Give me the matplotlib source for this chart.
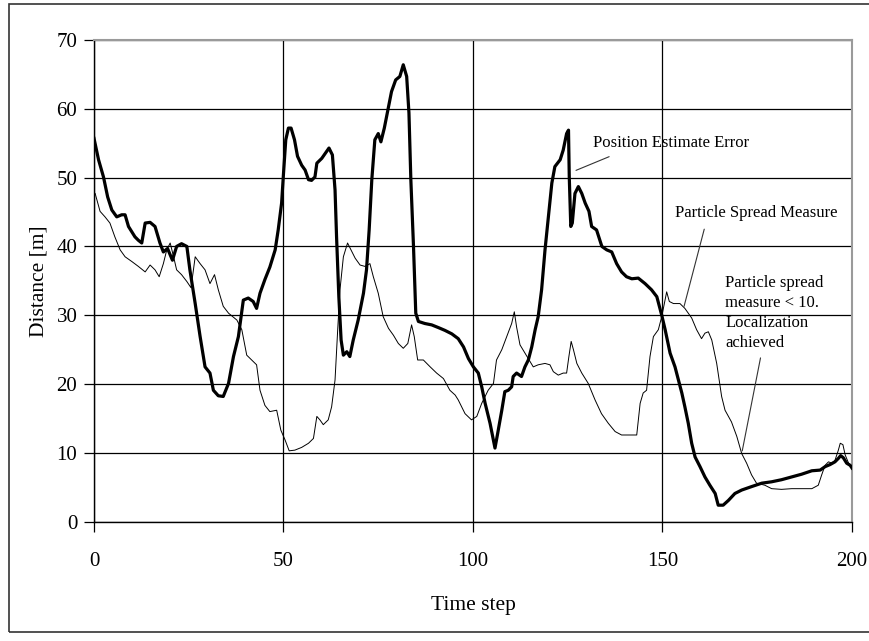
import matplotlib
matplotlib.use("Agg")
import matplotlib.pyplot as plt
from matplotlib.patches import Rectangle

# Position Estimate Error (thick line)
err_t = [0.0, 1.2, 2.5, 3.6, 4.7, 6.0, 7.3, 8.2, 9.1, 10.8, 11.7, 12.6, 13.5, 14.8, 16.1,
         17.4, 18.3, 19.4, 20.7, 21.8, 23.1, 24.5, 25.3, 26.7, 28.0, 29.3, 30.6, 31.5, 32.8,
         34.1, 35.5, 36.8, 38.1, 39.4, 40.7, 42.0, 42.9, 43.8, 45.1, 46.4, 47.8, 48.6, 49.5,
         50.0, 50.6, 51.3, 52.0, 52.9, 53.7, 54.8, 55.7, 56.6, 57.4, 58.3, 58.8, 60.1, 61.0,
         62.0, 62.9, 63.6, 64.0, 64.6, 65.2, 65.8, 66.7, 67.5, 68.4, 69.7, 71.1, 71.9, 72.6,
         73.3, 74.1, 75.0, 75.7, 76.6, 77.7, 78.5, 79.6, 80.7, 81.6, 82.5, 83.1, 83.6, 84.3,
         84.9, 85.6, 87.3, 89.1, 90.9, 92.6, 94.4, 96.1, 97.5, 98.8, 100.1, 101.4, 102.3,
         103.2, 104.5, 105.8, 106.5, 107.6, 108.4, 109.3, 110.2, 110.6, 111.5, 112.8, 113.7,
         114.6, 115.5, 116.4, 117.2, 118.1, 119.0, 119.9, 120.8, 121.6, 123.0, 123.8, 124.7,
         125.2, 125.4, 125.8, 126.2, 126.9, 127.8, 128.7, 129.6, 130.6, 131.3, 132.6, 134.0,
         135.3, 136.6, 137.9, 139.2, 140.5, 141.9, 143.6, 145.4, 147.1, 148.5, 149.8, 150.7,
         152.0, 153.3, 154.2, 155.1, 155.9, 156.8, 157.7, 158.6, 159.9, 161.2, 162.5, 163.9,
         164.7, 166.0, 167.4, 169.1, 170.9, 173.5, 176.2, 178.8, 181.4, 184.1, 186.7, 189.4,
         191.6, 192.9, 194.2, 195.5, 196.4, 197.0, 197.7, 198.6, 199.5, 200.0]
err_v = [55.7, 52.6, 50.1, 47.2, 45.3, 44.3, 44.6, 44.6, 42.9, 41.4, 40.9, 40.5, 43.4, 43.5, 42.9,
         40.5, 39.2, 39.7, 38.0, 40.0, 40.4, 40.0, 36.6, 31.7, 26.9, 22.5, 21.6, 19.1, 18.3,
         18.2, 20.1, 24.0, 26.9, 32.2, 32.5, 32.0, 31.0, 33.2, 35.2, 37.0, 39.5, 42.4, 46.3,
         50.6, 55.5, 57.2, 57.2, 55.5, 53.1, 51.8, 51.1, 49.7, 49.6, 50.1, 52.1, 52.8, 53.5,
         54.3, 53.3, 48.2, 41.4, 32.7, 26.4, 24.2, 24.7, 24.0, 26.4, 29.3, 33.2, 36.6, 42.4,
         49.7, 55.5, 56.4, 55.2, 57.2, 60.3, 62.5, 64.2, 64.7, 66.4, 64.7, 59.4, 49.7, 40.0,
         30.3, 29.1, 28.8, 28.6, 28.2, 27.8, 27.3, 26.6, 25.4, 23.7, 22.5, 21.6, 19.6,
         17.2, 14.3, 10.7, 12.8, 16.2, 18.9, 19.1, 19.6, 21.1, 21.6, 21.1, 22.5,
         23.5, 25.4, 27.9, 29.8, 33.7, 39.5, 44.3, 49.2, 51.6, 52.6, 54.0, 56.4,
         56.9, 50.1, 42.9, 43.4, 47.7, 48.7, 47.7, 46.3, 45.1, 42.9, 42.4, 40.0,
         39.5, 39.2, 37.5, 36.3, 35.6, 35.3, 35.4, 34.6, 33.7, 32.7, 30.0, 27.9,
         24.5, 22.5, 20.6, 18.7, 16.7, 14.3, 11.4, 9.4, 8.0, 6.5, 5.3, 4.1,
         2.4, 2.4, 3.1, 4.1, 4.6, 5.1, 5.6, 5.8, 6.1, 6.5, 6.9, 7.4,
         7.5, 8.0, 8.3, 8.7, 9.2, 9.6, 9.3, 8.5, 8.2, 7.8]

# Particle Spread Measure (thin line)
spread_t = [0.3, 1.6, 2.9, 4.2, 5.5, 6.9, 8.2, 10.0, 11.7, 13.5, 14.8, 16.1, 17.2, 18.3, 19.2,
            20.1, 21.0, 21.8, 23.1, 24.5, 25.6, 26.7, 28.0, 29.3, 30.6, 31.8, 32.8, 34.1, 35.5,
            37.7, 39.0, 40.3, 41.6, 42.9, 43.8, 45.1, 46.4, 48.2, 49.3, 50.4, 51.5, 53.0, 54.8,
            56.6, 57.9, 58.8, 59.6, 60.5, 61.8, 62.7, 63.6, 64.3, 64.9, 65.8, 66.9, 67.8, 68.9,
            70.2, 71.5, 72.8, 73.7, 75.0, 76.3, 77.7, 79.0, 80.3, 81.6, 82.8, 83.8, 84.5, 85.4,
            86.9, 88.7, 90.4, 92.2, 93.9, 95.3, 96.1, 97.9, 99.6, 101.0, 102.3, 104.0, 105.4,
            106.2, 107.6, 108.9, 110.2, 110.9, 111.5, 112.4, 113.7, 115.0, 115.9, 117.2, 119.0,
            120.3, 121.2, 122.5, 123.8, 124.7, 125.3, 125.9, 126.5, 127.4, 128.7, 130.4, 132.2,
            133.9, 135.7, 137.5, 139.2, 143.2, 144.1, 144.9, 145.8, 146.7, 147.6, 148.9, 149.8,
            150.5, 151.1, 151.8, 152.9, 154.6, 155.9, 157.7, 159.0, 160.3, 161.2, 162.1, 163.0,
            164.3, 165.6, 166.5, 168.2, 169.6, 170.9, 172.2, 173.5, 174.8, 177.0, 178.8, 181.4,
            184.1, 186.7, 189.4, 191.1, 192.0, 192.9, 193.8, 194.7, 195.5, 196.4, 196.9, 197.6,
            198.2, 199.1, 200.0]
spread_v = [47.7, 45.1, 44.3, 43.4, 41.4, 39.5, 38.5, 37.8, 37.1, 36.3, 37.3, 36.6, 35.6, 37.5, 39.5,
            40.5, 38.5, 36.6, 35.9, 34.9, 34.0, 38.5, 37.5, 36.6, 34.6, 35.9, 33.7, 31.3, 30.3,
            29.3, 27.9, 24.2, 23.5, 22.8, 19.1, 16.9, 16.0, 16.2, 13.3, 11.9, 10.3, 10.4, 10.8,
            11.4, 12.1, 15.3, 14.8, 14.1, 14.8, 16.7, 20.6, 27.9, 33.7, 38.5, 40.5, 39.5, 38.3,
            37.3, 37.1, 37.5, 35.6, 33.2, 29.8, 28.1, 27.1, 25.9, 25.2, 25.9, 28.6, 26.9, 23.5,
            23.5, 22.5, 21.6, 20.8, 19.1, 18.4, 17.7, 15.7, 14.8, 15.3, 17.2, 19.1, 20.1,
            23.5, 25.0, 26.9, 28.8, 30.5, 28.3, 25.7, 24.5, 23.3, 22.5, 22.8, 23.0,
            22.8, 21.8, 21.3, 21.6, 21.6, 24.0, 26.2, 25.0, 23.0, 21.6, 20.1, 17.7,
            15.7, 14.3, 13.1, 12.6, 12.6, 17.2, 18.7, 19.1, 24.0, 26.9, 27.9, 29.8,
            31.7, 33.4, 32.0, 31.7, 31.7, 31.0, 29.6, 27.9, 26.6, 27.4, 27.6, 26.4,
            23.0, 18.2, 16.2, 14.5, 12.4, 9.9, 8.5, 6.8, 5.6, 5.3, 4.8, 4.7,
            4.8, 4.8, 4.8, 5.3, 6.8, 8.2, 8.7, 8.5, 8.9, 10.4, 11.4, 11.2,
            9.7, 8.5, 8.0]

x_ticks = [0, 50, 100, 150, 200]
y_ticks = [0, 10, 20, 30, 40, 50, 60, 70]

plt.rcParams['font.family'] = ['Liberation Serif', 'DejaVu Serif']

fig = plt.figure(figsize=(8.7, 6.41), dpi=100)
ax = fig.add_axes([94 / 870, 1 - 521.7 / 641, (852 - 94) / 870, (521.7 - 40) / 641])

ax.plot(spread_t, spread_v, color='black', lw=0.7, zorder=3)
ax.plot(err_t, err_v, color='black', lw=2.3, zorder=4)

ax.set_xlim(0, 200)
ax.set_ylim(0, 70)
ax.set_xticks(x_ticks)
ax.set_yticks(y_ticks)
ax.grid(True, color='black', lw=0.9)
ax.set_axisbelow(True)
ax.tick_params(direction='out', length=7, width=0.9, labelsize=15, pad=15)
ax.tick_params(axis='y', pad=5)
for side in ['left', 'bottom']:
    ax.spines[side].set_linewidth(1.0)
for side in ['top', 'right']:
    ax.spines[side].set_color('#9a9a9a')
    ax.spines[side].set_linewidth(1.5)

ax.set_xlabel('Time step', fontsize=15.5, labelpad=18)
ax.set_ylabel('Distance [m]', fontsize=15.5, labelpad=6)

# annotations
ax.text(131.7, 55.0, 'Position Estimate Error', fontsize=12, va='center', ha='left')
ax.annotate('', xy=(126.5, 50.9), xytext=(136.6, 53.2),
            arrowprops=dict(arrowstyle='-', color='#333333', lw=0.8))
ax.text(153.3, 44.8, 'Particle Spread Measure', fontsize=12, va='center', ha='left')
ax.annotate('', xy=(155.5, 30.9), xytext=(161.2, 42.9),
            arrowprops=dict(arrowstyle='-', color='#333333', lw=0.8))
ax.text(166.5, 35.8, 'Particle spread\nmeasure < 10.\nLocalization\nachieved',
        fontsize=12, va='top', ha='left', linespacing=1.33)
ax.annotate('', xy=(170.9, 9.9), xytext=(176.0, 24.2),
            arrowprops=dict(arrowstyle='-', color='#333333', lw=0.8))

# outer frame
fig.patches.append(Rectangle((9 / 870, 1 - 632 / 641), 1.0, (632 - 4) / 641,
                             transform=fig.transFigure, fill=False,
                             edgecolor='#333333', lw=1.2))

fig.savefig('out.png', dpi=100)
